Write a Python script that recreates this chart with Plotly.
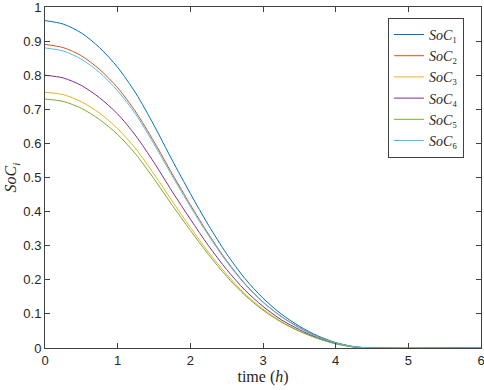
import plotly.graph_objects as go

time_h = [0, 0.25, 0.5, 0.75, 1.0, 1.25, 1.5, 1.75, 2.0, 2.25, 2.5, 2.75, 3.0, 3.25, 3.5, 3.75, 4.0, 4.25, 4.5, 6.0]

soc1 = [0.960, 0.950, 0.924, 0.881, 0.823, 0.747, 0.653, 0.551, 0.453, 0.360, 0.276, 0.204, 0.146, 0.100, 0.064, 0.036, 0.016, 0.004, 0, 0]
soc2 = [0.890, 0.881, 0.857, 0.817, 0.763, 0.692, 0.605, 0.511, 0.420, 0.334, 0.256, 0.189, 0.135, 0.093, 0.060, 0.034, 0.015, 0.004, 0, 0]
soc3 = [0.750, 0.743, 0.722, 0.689, 0.643, 0.584, 0.510, 0.431, 0.354, 0.281, 0.216, 0.159, 0.114, 0.078, 0.050, 0.029, 0.013, 0.003, 0, 0]
soc4 = [0.800, 0.792, 0.770, 0.734, 0.686, 0.622, 0.544, 0.459, 0.378, 0.300, 0.230, 0.170, 0.122, 0.083, 0.054, 0.030, 0.014, 0.003, 0, 0]
soc5 = [0.730, 0.723, 0.703, 0.670, 0.626, 0.568, 0.496, 0.419, 0.345, 0.274, 0.210, 0.155, 0.111, 0.076, 0.049, 0.028, 0.012, 0.003, 0, 0]
soc6 = [0.880, 0.871, 0.847, 0.808, 0.754, 0.685, 0.598, 0.505, 0.415, 0.330, 0.253, 0.187, 0.134, 0.092, 0.059, 0.033, 0.015, 0.004, 0, 0]

series = [soc1, soc2, soc3, soc4, soc5, soc6]
names = ["<i>SoC</i>₁", "<i>SoC</i>₂", "<i>SoC</i>₃", "<i>SoC</i>₄", "<i>SoC</i>₅", "<i>SoC</i>₆"]
colors = ["#0072BD", "#D95319", "#EDB120", "#7E2F8E", "#77AC30", "#4DBEEE"]

x_ticks = [0, 1, 2, 3, 4, 5, 6]
y_ticks = [0, 0.1, 0.2, 0.3, 0.4, 0.5, 0.6, 0.7, 0.8, 0.9, 1]
y_tick_text = ["0", "0.1", "0.2", "0.3", "0.4", "0.5", "0.6", "0.7", "0.8", "0.9", "1"]

fig = go.Figure()
for ys, nm, c in zip(series, names, colors):
    fig.add_trace(go.Scatter(x=time_h, y=ys, mode="lines", name=nm,
                             line=dict(color=c, width=1, shape="spline", smoothing=0.8)))

axis_color = "#404040"
tick_font = dict(family="Liberation Sans, Arial, sans-serif", size=13, color="#262626")
serif = "Liberation Serif, Times New Roman, serif"
fig.update_layout(
    width=484, height=390,
    margin=dict(l=45, r=3, t=7, b=42),
    paper_bgcolor="white", plot_bgcolor="white",
    showlegend=True,
    legend=dict(x=0.961, y=0.968, xanchor="right", yanchor="top",
                bgcolor="white", bordercolor="#404040", borderwidth=1,
                font=dict(family=serif, size=14, color="#262626"),
                tracegroupgap=0),
    xaxis=dict(range=[0, 6], tickvals=x_ticks, ticks="inside", ticklen=5, automargin=False,
               ticklabeloverflow="allow",
               showline=True, linecolor=axis_color, linewidth=1, mirror="ticks",
               tickcolor=axis_color, showgrid=False, zeroline=False, tickfont=tick_font,
               title=dict(text="time (<i>h</i>)", standoff=2,
                          font=dict(family=serif, size=16, color="#262626"))),
    yaxis=dict(range=[0, 1], tickvals=y_ticks, ticktext=y_tick_text, ticks="inside", ticklen=5, automargin=False,
               ticklabeloverflow="allow",
               showline=True, linecolor=axis_color, linewidth=1, mirror="ticks",
               tickcolor=axis_color, showgrid=False, zeroline=False, tickfont=tick_font,
               title=dict(text="<i>SoC</i><sub><i>i</i></sub>", standoff=2,
                          font=dict(family=serif, size=16, color="#262626"))),
)

fig.write_html("out.html", config={"displayModeBar": False},
               post_script="document.body.style.margin='0';document.body.style.overflow='hidden';")
